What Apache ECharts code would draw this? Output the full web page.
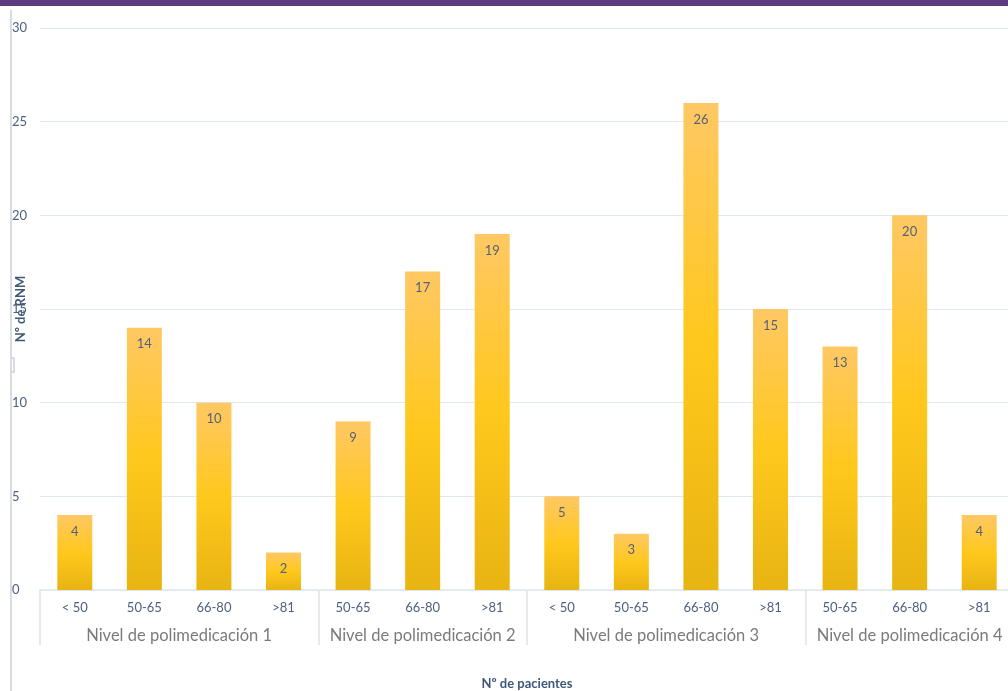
<!DOCTYPE html>
<html>
<head>
<meta charset="utf-8">
<script src="https://cdn.jsdelivr.net/npm/echarts@6/dist/echarts.min.js"></script>
<style>
  html, body { margin: 0; padding: 0; background: #fff; }
  #chart { width: 1008px; height: 691px; }
</style>
</head>
<body>
<div id="chart"></div>
<script>
// Age bands per polypharmacy level
const ageBands = ['< 50', '50-65', '66-80', '>81',
                  '50-65', '66-80', '>81',
                  '< 50', '50-65', '66-80', '>81',
                  '50-65', '66-80', '>81'];
// Number of drug-related negative outcomes (RNM) per band
const rnmValues = [4, 14, 10, 2, 9, 17, 19, 5, 3, 26, 15, 13, 20, 4];
// Group names and how many bands each one spans
const groupNames = ['Nivel de polimedicación 1', 'Nivel de polimedicación 2',
                    'Nivel de polimedicación 3', 'Nivel de polimedicación 4'];
const groupSizes = [4, 3, 4, 3];
const yTicks = [0, 5, 10, 15, 20, 25, 30];

// Boundaries and centres of the groups along the band index scale
const groupEdges = [0];
groupSizes.forEach(n => groupEdges.push(groupEdges[groupEdges.length - 1] + n));
const groupCentres = groupSizes.map((n, i) => groupEdges[i] + n / 2);

const chart = echarts.init(document.getElementById('chart'), null, { renderer: 'canvas' });
const font = 'Lato, "Open Sans", sans-serif';
const titleStyle = { color: '#3f5878', fontWeight: 'bold', fontSize: 13, fontFamily: font };

chart.setOption({
  animation: false,
  backgroundColor: '#ffffff',
  textStyle: { fontFamily: font },
  grid: { left: 40, right: -6, top: 28, bottom: 101, outerBoundsMode: 'none', containLabel: false },
  xAxis: [
    {
      type: 'category',
      data: ageBands,
      name: 'Nº de pacientes',
      nameLocation: 'middle',
      nameGap: 87,
      nameMoveOverlap: false,
      nameTextStyle: titleStyle,
      axisLine: { lineStyle: { color: '#dfe7ee', width: 1.5 } },
      axisTick: { show: false },
      axisLabel: { color: '#4e6080', fontSize: 13, margin: 11, interval: 0, fontFamily: font }
    },
    {
      type: 'value',
      min: 0,
      max: ageBands.length,
      position: 'bottom',
      axisLine: { show: false },
      splitLine: { show: false },
      axisTick: {
        show: true,
        customValues: groupEdges,
        length: 55,
        lineStyle: { color: '#dde3ea', width: 1.5 }
      },
      axisLabel: {
        customValues: groupCentres,
        margin: 37,
        color: '#7b7b7b',
        fontSize: 16.5,
        fontFamily: font,
        formatter: v => groupNames[groupCentres.indexOf(v)]
      }
    }
  ],
  yAxis: {
    type: 'value',
    min: yTicks[0],
    max: yTicks[yTicks.length - 1],
    interval: 5,
    name: 'Nº de RNM',
    nameLocation: 'middle',
    nameGap: 13,
    nameMoveOverlap: false,
    nameTextStyle: titleStyle,
    axisLine: { show: false },
    axisTick: { show: false },
    axisLabel: { color: '#4e6080', fontSize: 13, margin: 28, align: 'left', fontFamily: font },
    splitLine: { lineStyle: { color: '#dfe8ee', width: 1.2 } }
  },
  series: [{
    type: 'bar',
    xAxisIndex: 0,
    data: rnmValues,
    barWidth: 35,
    itemStyle: {
      color: new echarts.graphic.LinearGradient(0, 0, 0, 1, [
        { offset: 0, color: '#ffc864' },
        { offset: 0.5, color: '#ffc81c' },
        { offset: 1, color: '#e8b412' }
      ])
    },
    label: {
      show: true,
      position: 'insideTop',
      distance: 10,
      color: '#556178',
      fontSize: 13,
      fontFamily: font
    }
  }],
  graphic: [
    // purple band along the top edge
    { type: 'rect', left: 0, top: 0, shape: { width: 1008, height: 6 }, style: { fill: '#5e3b80' }, z: 10 },
    // thin frame line on the left
    { type: 'line', shape: { x1: 11, y1: 10, x2: 11, y2: 691 }, style: { stroke: '#cdd1da', lineWidth: 1.5 }, z: 10 },
    { type: 'polyline', shape: { points: [[11, 358], [14, 358], [14, 372], [11, 372]] }, style: { stroke: '#cdd1da', fill: null, lineWidth: 1.5 }, z: 10 }
  ]
});
</script>
</body>
</html>
